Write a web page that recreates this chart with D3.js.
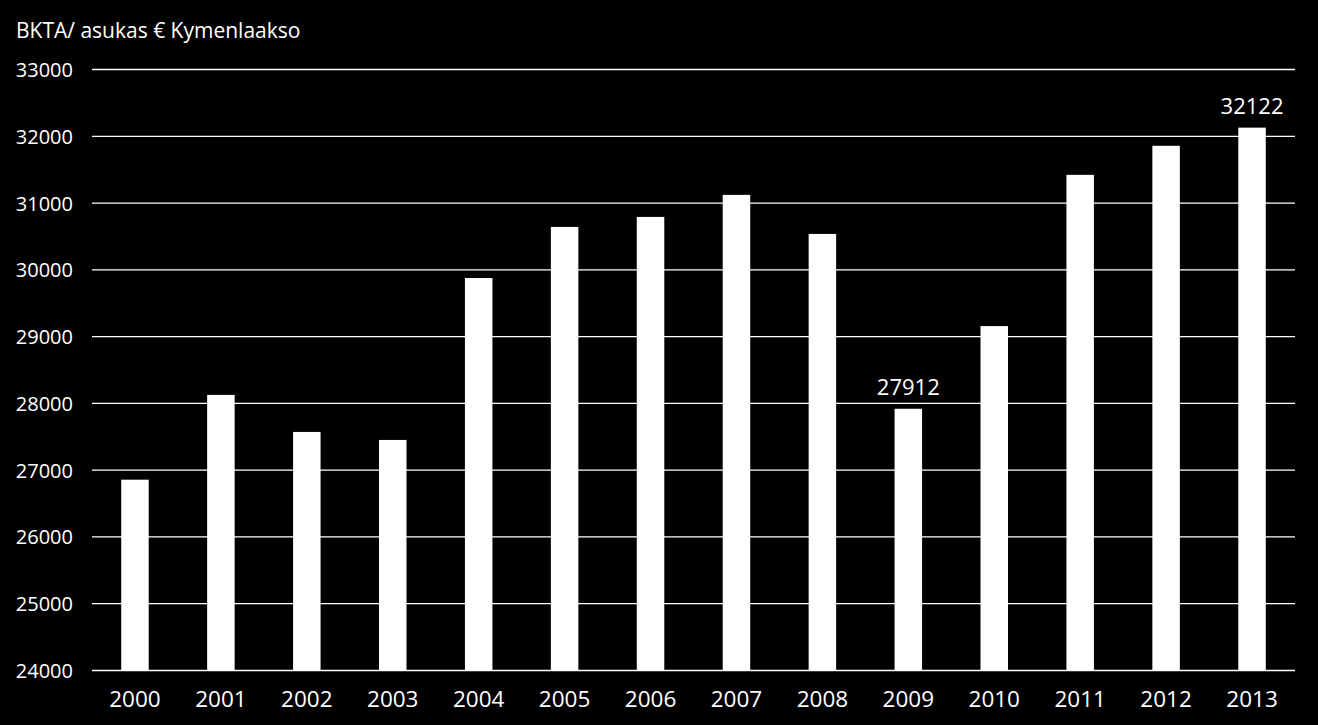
<!DOCTYPE html>
<html><head><meta charset="utf-8">
<script src="https://cdn.jsdelivr.net/npm/d3@7"></script>
<style>html,body{margin:0;padding:0;background:#000;}svg{display:block;}</style>
</head><body>
<script>
const years = ["2000","2001","2002","2003","2004","2005","2006","2007","2008","2009","2010","2011","2012","2013"];
const values = [26850,28120,27565,27445,29870,30635,30785,31115,30530,27912,29150,31415,31850,32122];
const labeledYears = ["2009","2013"];
const yTicks = [24000,25000,26000,27000,28000,29000,30000,31000,32000,33000];
const title = "BKTA/ asukas € Kymenlaakso";

(function () {
const W = 1318, H = 725;
const mLeft = 92, mRight = 1295, mTop = 69, mBottom = 670;
const font = "'Open Sans', sans-serif";

const svg = d3.select("body").append("svg").attr("width", W).attr("height", H)
  .style("background", "#000");

const x = d3.scaleBand().domain(years).range([mLeft, mRight]).paddingInner(0.68).paddingOuter(0.34);
const y = d3.scaleLinear().domain([24000, 33000]).range([mBottom, mTop]);

svg.append("g").selectAll("line").data(yTicks).join("line")
  .attr("x1", mLeft).attr("x2", mRight)
  .attr("y1", d => y(d) + 0.5).attr("y2", d => y(d) + 0.5)
  .attr("stroke", "#fff").attr("stroke-width", 1.3);

svg.append("g").selectAll("text").data(yTicks).join("text")
  .attr("x", 73).attr("y", d => y(d) + 1).attr("dy", "0.35em")
  .attr("text-anchor", "end").attr("fill", "#fff")
  .style("font-family", font).style("font-size", "20px")
  .text(d => d);

svg.append("g").selectAll("rect").data(years).join("rect")
  .attr("x", d => x(d)).attr("width", x.bandwidth())
  .attr("y", (d, i) => y(values[i])).attr("height", (d, i) => y(24000) - y(values[i]))
  .attr("fill", "#fff");

svg.append("g").selectAll("text").data(years).join("text")
  .attr("x", d => x(d) + x.bandwidth() / 2).attr("y", 707)
  .attr("text-anchor", "middle").attr("fill", "#fff")
  .style("font-family", font).style("font-size", "22.5px")
  .text(d => d);

svg.append("g").selectAll("text").data(labeledYears).join("text")
  .attr("x", d => x(d) + x.bandwidth() / 2)
  .attr("y", d => y(values[years.indexOf(d)]) - 14)
  .attr("text-anchor", "middle").attr("fill", "#fff")
  .style("font-family", font).style("font-size", "22px")
  .text(d => values[years.indexOf(d)]);

svg.append("text").attr("x", 16).attr("y", 38).attr("fill", "#fff")
  .style("font-family", font).style("font-size", "21px")
  .text(title);
})();
</script>
</body></html>
